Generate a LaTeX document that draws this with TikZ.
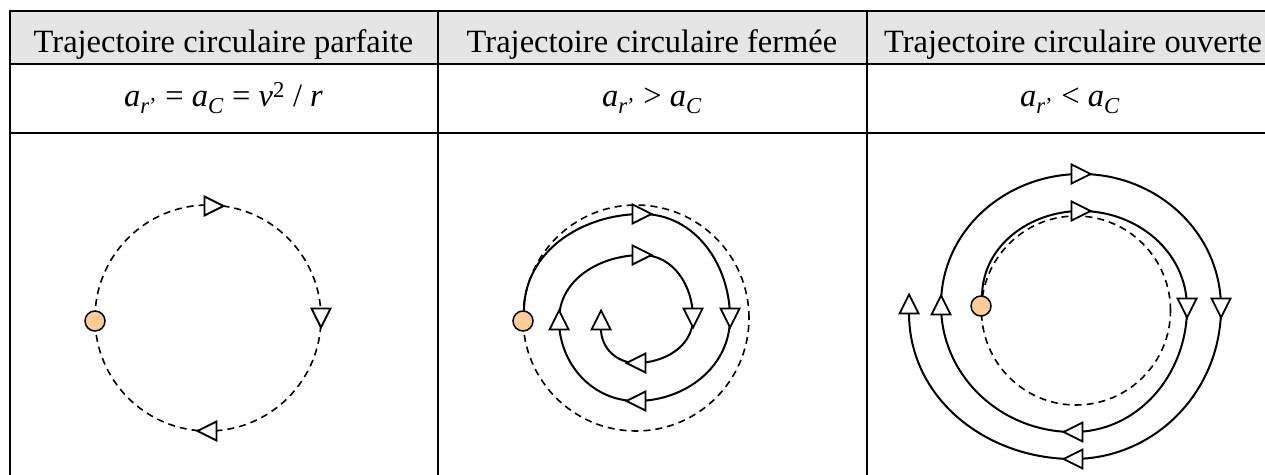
\documentclass[tikz,border=0pt]{standalone}
\usepackage{fontspec}
\setmainfont{Liberation Serif}
\definecolor{peach}{RGB}{255,204,153}
\begin{document}
\begin{tikzpicture}[x=1pt,y=1pt,
    rule/.style={line width=2pt,line cap=rect},
    orbit/.style={line width=1.6pt,dash pattern=on 7pt off 5pt},
    traj/.style={line width=2pt},
    mass/.style={circle,draw,line width=1.5pt,fill=peach,minimum size=20pt,inner sep=0pt},
    head/.style={anchor=base,font=\fontsize{32.5}{39}\selectfont},
    tri/.pic={\draw[line width=1.8pt,fill=white] (-9.5,-9.5) -- (9.5,0) -- (-9.5,9.5) -- cycle;}]
    \useasboundingbox (0,0) rectangle (1265,474);
    % table
    \fill[gray!20] (10,410) rectangle (1265,463);
    \draw[rule] (1265,463) -- (10,463) -- (10,0);
    \draw[rule] (10,410) -- (1265,410);
    \draw[rule] (10,341) -- (1265,341);
    \draw[rule] (437.7,463) -- (437.7,0);
    \draw[rule] (866.7,463) -- (866.7,0);
    \node[head] (h1) at (223.5,421) {Trajectoire circulaire parfaite};
    \node[head] (h2) at (652,421) {Trajectoire circulaire fermée};
    \node[head] (h3) at (1073,421) {Trajectoire circulaire ouverte};
    \node[head] (f1) at (223.5,367) {\textit{a}\textsubscript{\textit{r}'} = \textit{a}\textsubscript{\textit{C}} = \textit{v}\textsuperscript{2} / \textit{r}};
    \node[head] (f2) at (652,367) {\textit{a}\textsubscript{\textit{r}'} > \textit{a}\textsubscript{\textit{C}}};
    \node[head] (f3) at (1070,367) {\textit{a}\textsubscript{\textit{r}'} < \textit{a}\textsubscript{\textit{C}}};
    % parfaite
    \draw[orbit] (208,156) circle[radius=113];
    \pic at (214,268) {tri};
    \pic[rotate=-90] at (321,156) {tri};
    \pic[rotate=180] at (207,43) {tri};
    \node[mass] (m1) at (95,153) {};
    % fermee
    \draw[orbit] (636,156) circle[radius=113];
    \draw[traj] (524,163) to[out=90,in=180] (642,260) to[out=0,in=90] (730,156)
        to[out=-90,in=0] (636,73) to[out=180,in=-90] (559,154)
        to[out=90,in=180] (642,219) to[out=0,in=90] (693,156)
        to[out=-90,in=0] (636,111) to[out=180,in=-90] (601,145);
    \pic at (642,260) {tri};
    \pic[rotate=-90] at (730,156) {tri};
    \pic[rotate=180] at (636,73) {tri};
    \pic[rotate=90] at (559,154) {tri};
    \pic at (642,219) {tri};
    \pic[rotate=-90] at (693,156) {tri};
    \pic[rotate=180] at (636,111) {tri};
    \pic[rotate=90] at (601,154) {tri};
    \node[mass] (m2) at (523,153) {};
    % ouverte
    \draw[orbit] (1076,163.5) circle[radius=94.5];
    \draw[traj] (982,177) to[out=90,in=180] (1081,263) to[out=0,in=90] (1187,166)
        to[out=-90,in=0] (1073,42) to[out=180,in=-90] (941,169)
        to[out=90,in=180] (1081,300) to[out=0,in=90] (1221,166)
        to[out=-90,in=0] (1073,15) to[out=180,in=-90] (909,161);
    \pic at (1081,263) {tri};
    \pic[rotate=-90] at (1187,166) {tri};
    \pic[rotate=180] at (1073,42) {tri};
    \pic[rotate=90] at (941,169) {tri};
    \pic at (1081,300) {tri};
    \pic[rotate=-90] at (1221,166) {tri};
    \pic[rotate=180] at (1073,15) {tri};
    \pic[rotate=90] at (909,170) {tri};
    \node[mass] (m3) at (981,168) {};
\end{tikzpicture}
\end{document}
